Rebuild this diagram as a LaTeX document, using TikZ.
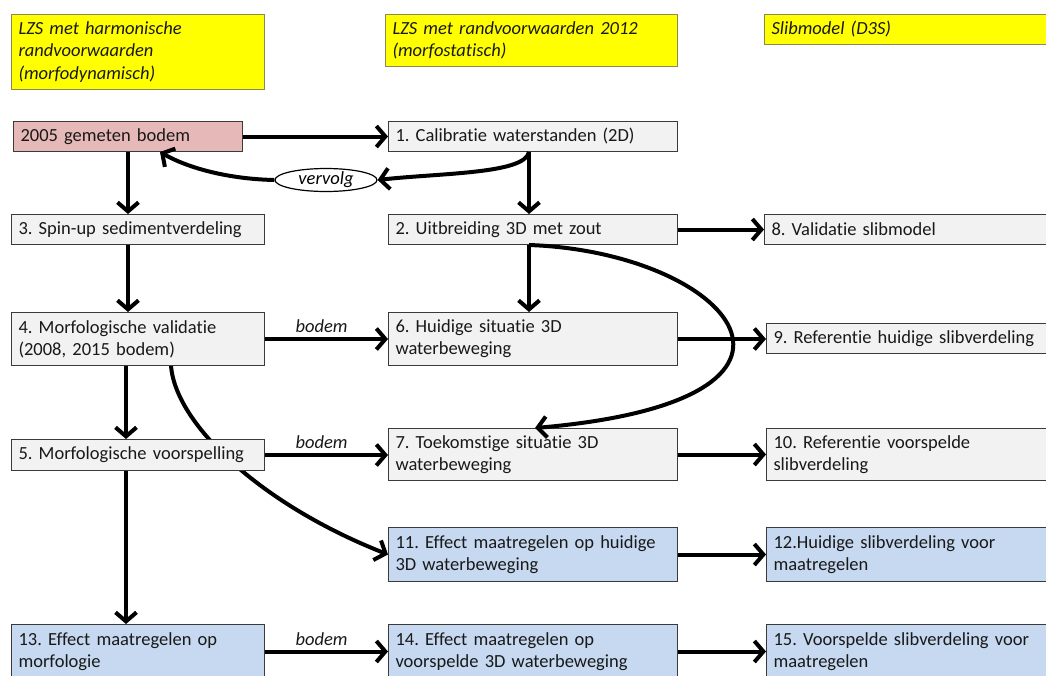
\documentclass[tikz,border=0pt]{standalone}
\usepackage{fontspec}
\setmainfont{Carlito}[Ligatures={NoCommon,NoContextual}]
\frenchspacing
\newcommand{\Tti}{t\kern0pt i}
\usetikzlibrary{arrows.meta,shapes.geometric,backgrounds,calc}
\definecolor{boxgray}{HTML}{F2F2F2}
\definecolor{boxpink}{HTML}{E6B9B8}
\definecolor{boxblue}{HTML}{C6D9F0}
\definecolor{boxyellow}{HTML}{FFFF00}
\definecolor{bordercol}{HTML}{3A3A3A}
\definecolor{yborder}{HTML}{8A8A50}
\begin{document}
\begin{tikzpicture}[x=1pt,y=-1pt,
  box/.style={draw=bordercol, line width=1pt, fill=boxgray, anchor=north west,
    inner xsep=7pt, inner ysep=0pt, align=left,
    font=\fontsize{18.5}{22}\selectfont, text=black!90},
  hdr/.style={box, fill=boxyellow, draw=yborder, font=\fontsize{18.5}{22.5}\selectfont\itshape},
  pinkbox/.style={box, fill=boxpink},
  bluebox/.style={box, fill=boxblue},
  wa/.style={text width=239pt},
  wb/.style={text width=275pt},
  wc/.style={text width=290pt},
  arr/.style={line width=4pt, -{Straight Barb[length=9pt,width=21pt,line width=4pt]}},
  lbl/.style={font=\fontsize{18.5}{22}\selectfont\itshape, inner sep=1pt, text=black!90},
  oval/.style={ellipse, draw=black, line width=1.2pt, fill=white, minimum width=102pt,
    minimum height=23pt, inner sep=0pt, font=\fontsize{18.5}{22}\selectfont\itshape}
]
\useasboundingbox (0,0) rectangle (1046,675);

% headers
\node[hdr, wa, minimum height=75pt] (h1) at (11,14) {LZS met harmonische\\randvoorwaarden\\(morfodynamisch)};
\node[hdr, text width=278pt, minimum height=52pt] (h2) at (385,14) {LZS met randvoorwaarden 2012\\(morfostatisch)};
\node[hdr, wc, minimum height=30pt] (h3) at (764,14) {Slibmodel (D3S)};

% column 1
\node[pinkbox, text width=215pt, minimum height=30pt] (n2005) at (13,121) {2005 gemeten bodem};
\node[box, wa, minimum height=30pt] (b3) at (11,214) {3. Spin-up sedimentverdeling};
\node[box, wa, minimum height=53pt] (b4) at (11,312) {4. Morfologische valida\Tti e\\(2008, 2015 bodem)};
\node[box, wa, minimum height=31pt] (b5) at (11,439) {5. Morfologische voorspelling};
\node[bluebox, wa, minimum height=54pt] (b13) at (11,624) {13. Effect maatregelen op\\morfologie};

% column 2
\node[box, wb, minimum height=30pt] (c1) at (388,121) {1. Calibra\Tti e waterstanden (2D)};
\node[box, wb, minimum height=30pt] (c2) at (388,214) {2. Uitbreiding 3D met zout};
\node[box, wb, minimum height=53pt] (c6) at (388,312) {6. Huidige situa\Tti e 3D\\waterbeweging};
\node[box, wb, minimum height=52pt] (c7) at (388,428) {7. Toekoms\Tti ge situa\Tti e 3D\\waterbeweging};
\node[bluebox, wb, minimum height=54pt] (c11) at (388,527) {11. Effect maatregelen op huidige\\3D waterbeweging};
\node[bluebox, wb, minimum height=54pt] (c14) at (388,624) {14. Effect maatregelen op\\voorspelde 3D waterbeweging};

% column 3
\node[box, wc, minimum height=30pt] (r8) at (764,214) {8. Valida\Tti e slibmodel};
\node[box, wc, minimum height=30pt] (r9) at (766,323) {9. Referen\Tti e huidige slibverdeling};
\node[box, wc, minimum height=52pt] (r10) at (766,428) {10. Referen\Tti e voorspelde\\slibverdeling};
\node[bluebox, wc, minimum height=54pt] (r12) at (766,527) {12.Huidige slibverdeling voor\\maatregelen};
\node[bluebox, wc, minimum height=54pt] (r15) at (766,624) {15. Voorspelde slibverdeling voor\\maatregelen};

% vervolg
\node[oval] (vv) at (326,180) {vervolg};

% horizontal arrows
\draw[arr] (n2005.east) -- (c1.west);
\draw[arr] (c2.east) -- (r8.west);
\draw[arr] (b4.east) -- node[lbl, above=3pt, pos=0.46] {bodem} (c6.west);
\draw[arr] (c6.east) -- (c6.east -| r9.west);
\draw[arr] (b5.east) -- node[lbl, above=3pt, pos=0.46] {bodem} (b5.east -| c7.west);
\draw[arr] (c7.east) -- (r10.west);
\draw[arr] (c11.east) -- (r12.west);
\draw[arr] (b13.east) -- node[lbl, above=3pt, pos=0.46] {bodem} (c14.west);
\draw[arr] (c14.east) -- (r15.west);

% vertical arrows col 1
\draw[arr] (n2005.south) -- (n2005.south |- b3.north);
\draw[arr] (n2005.south |- b3.south) -- (n2005.south |- b4.north);
\draw[arr] ([xshift=-2pt]n2005.south |- b4.south) -- ([xshift=-2pt]n2005.south |- b5.north);
\draw[arr] ([xshift=-2pt]n2005.south |- b5.south) -- ([xshift=-2pt]n2005.south |- b13.north);

% vertical arrows col 2
\coordinate (k1) at ([xshift=-4pt]c1.south);
\coordinate (k2) at ([xshift=-4pt]c2.south);
\draw[arr] (k1) -- (k1 |- c2.north);
\draw[arr] (k2) -- (k2 |- c6.north);

% curves
\draw[arr] (k1) .. controls ($(k1)+(-4,22)$) and (440,173) .. (vv.east);
\draw[arr] (vv.west) .. controls (228,179) and (188,168) .. ([xshift=32pt]n2005.south);
\draw[arr] (k2) .. controls (730,252) and (860,400) .. ([xshift=2pt]c7.north);
\begin{pgfonlayer}{background}
\draw[arr] ([xshift=33pt]b4.south) .. controls (176,425) and (262,505) .. (c11.west);
\end{pgfonlayer}
\end{tikzpicture}
\end{document}
